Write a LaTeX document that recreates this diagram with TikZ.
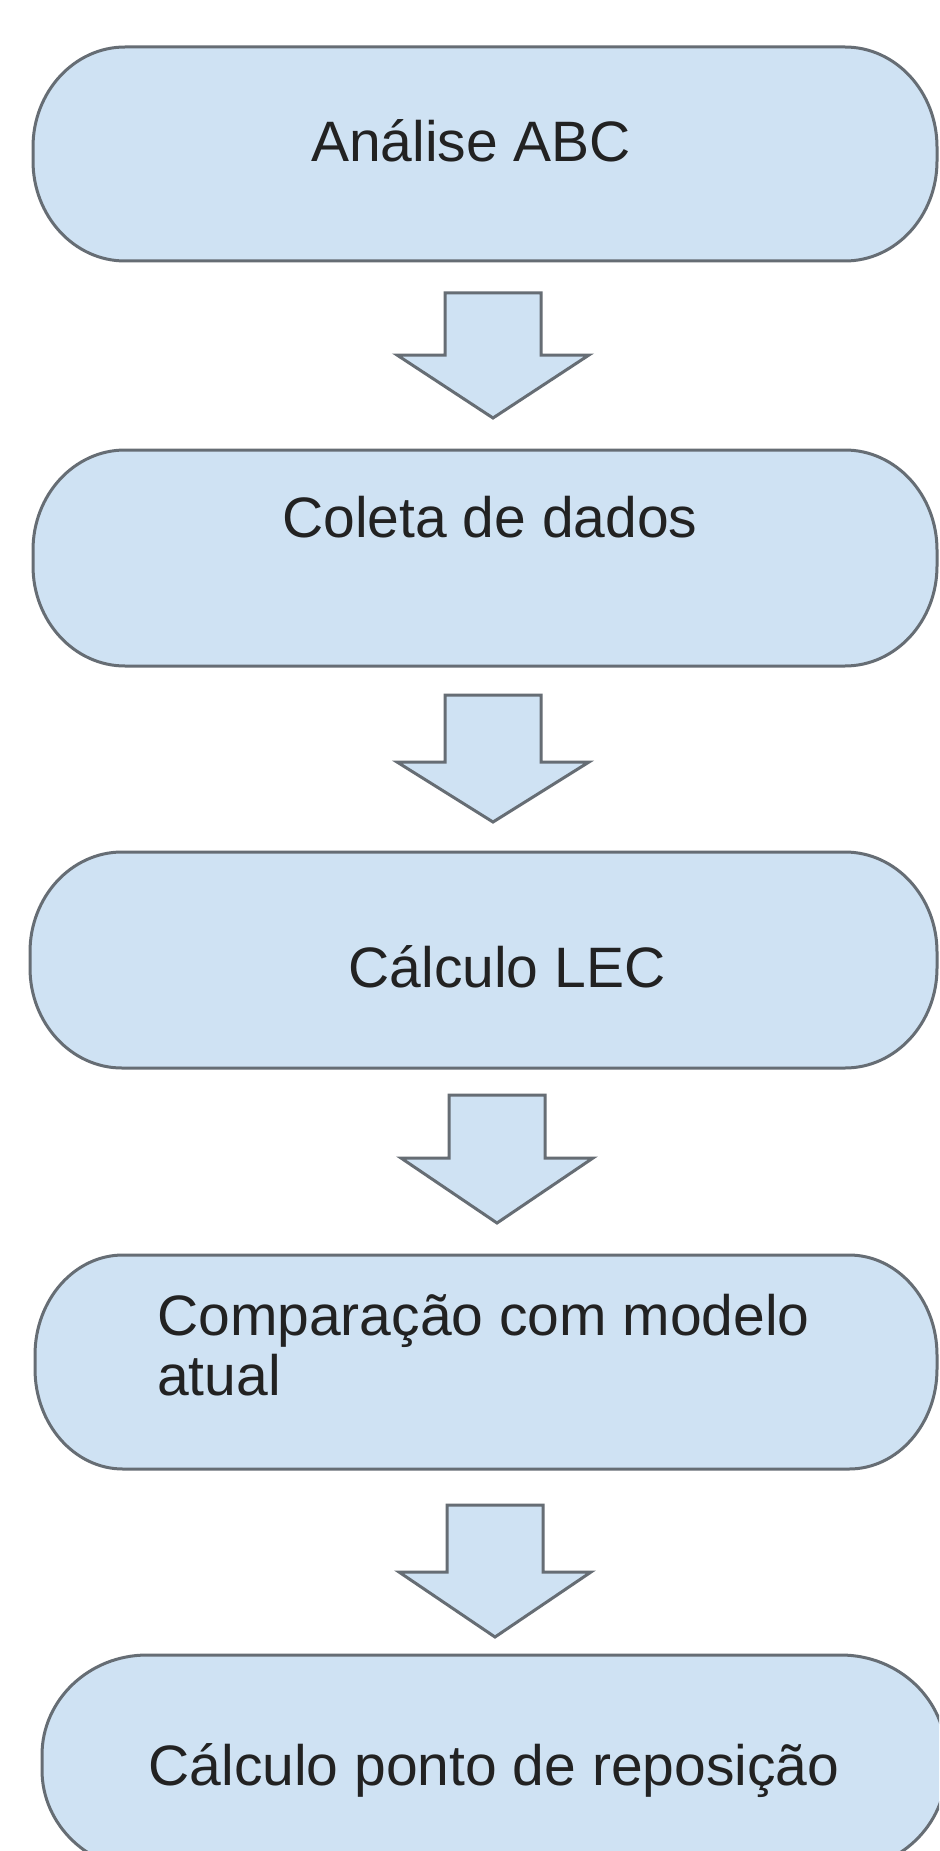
\documentclass[tikz,border=0pt]{standalone}
\usepackage{fontspec}
\setmainfont{Liberation Sans}
\definecolor{boxfill}{HTML}{CFE2F3}
\definecolor{boxline}{HTML}{666D74}
\definecolor{txt}{HTML}{222222}
\tikzset{
  stadiumbox/.style={fill=boxfill, draw=boxline, line width=3pt},
  blockarrow/.style={fill=boxfill, draw=boxline, line width=3pt, line join=miter},
  lbl/.style={text=txt, font=\fontsize{57}{60}\selectfont, inner sep=0pt, anchor=base},
}
% #1 name, #2 x1, #3 y1, #4 x2, #5 y2, #6 rx, #7 ry
\newcommand{\stadiumshape}[7]{%
  \draw[stadiumbox] ({#2+#6},#3) -- ({#4-#6},#3)
    .. controls ({#4-0.448*#6},#3) and (#4,{#3+0.448*#7}) .. (#4,{#3+#7})
    -- (#4,{#5-#7})
    .. controls (#4,{#5-0.448*#7}) and ({#4-0.448*#6},#5) .. ({#4-#6},#5)
    -- ({#2+#6},#5)
    .. controls ({#2+0.448*#6},#5) and (#2,{#5-0.448*#7}) .. (#2,{#5-#7})
    -- (#2,{#3+#7})
    .. controls (#2,{#3+0.448*#7}) and ({#2+0.448*#6},#3) .. ({#2+#6},#3) -- cycle;
  \coordinate (#1) at ({(#2+#4)/2},{(#3+#5)/2});
}
% #1 name, #2 cx, #3 top, #4 wing y, #5 tip y, #6 half shaft, #7 half wing
\newcommand{\downarrowshape}[7]{%
  \draw[blockarrow] ({#2-#6},#3) -- ({#2+#6},#3) -- ({#2+#6},#4) -- ({#2+#7},#4)
    -- (#2,#5) -- ({#2-#7},#4) -- ({#2-#6},#4) -- cycle;
  \coordinate (#1) at (#2,{(#3+#5)/2});
}
\begin{document}
\begin{tikzpicture}[x=1pt,y=-1pt]
\useasboundingbox (0,0) rectangle (939,1851);
\clip (0,0) rectangle (939,1851);
\fill[white] (0,0) rectangle (939,1851);

\stadiumshape{b1}{33}{47}{937}{261}{92}{100}
\stadiumshape{b2}{33}{450}{937}{666}{92}{100}
\stadiumshape{b3}{30}{852}{937}{1068}{92}{100}
\stadiumshape{b4}{35}{1255}{937}{1469}{88}{100}
\stadiumshape{b5}{42}{1655}{946}{1870}{105}{100}

\downarrowshape{a1}{493}{293}{355}{418}{48}{96}
\downarrowshape{a2}{493}{695}{762}{822}{48}{96}
\downarrowshape{a3}{497}{1095}{1158}{1223}{48}{96}
\downarrowshape{a4}{495}{1505}{1572}{1637}{48}{96}

\node[lbl] (t1) at (471,162) {Análise ABC};
\node[lbl] (t2) at (490,537) {Coleta de dados};
\node[lbl] (t3) at (507,987) {Cálculo LEC};
\node[lbl, anchor=base west, align=left] (t4) at (157,1395) {Comparação com modelo\\atual};
\node[lbl] (t5) at (494,1785) {Cálculo ponto de reposição};
\end{tikzpicture}
\end{document}
